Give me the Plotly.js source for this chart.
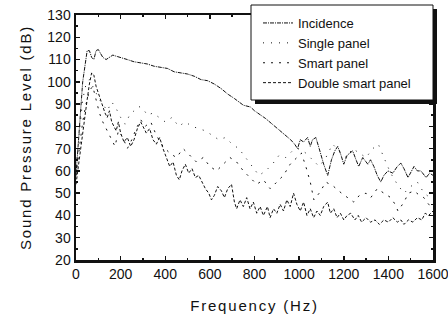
<!DOCTYPE html>
<html>
<head>
<meta charset="utf-8">
<script src="https://cdn.plot.ly/plotly-3.0.1.min.js"></script>
<style>
html,body{margin:0;padding:0;background:#fff;}
#chart{width:448px;height:316px;}
.xtitle,.ytitle{letter-spacing:1.8px;}
</style>
</head>
<body>
<div id="chart"></div>
<script>
// ---- data ----
const seriesNames = ["Incidence", "Single panel", "Smart panel", "Double smart panel"];

const freqIncidence = [0,10,20,30,40,50,60,70,80,90,100,110,120,135,150,165,180,200,230,260,290,320,350,380,410,440,470,500,530,560,590,620,650,680,710,750,782,800,850,880,917,940,962,980,993,1005,1020,1038,1050,1060,1075,1090,1110,1128,1145,1160,1173,1188,1200,1215,1240,1255,1267,1285,1308,1320,1335,1350,1366,1380,1398,1420,1440,1456,1470,1488,1500,1515,1530,1546,1569,1585,1600];
const dbIncidence = [58,70,86,100,108,114,114,111,110,114,114.5,113,111,110,111,112,111.5,111,110,109,108.5,108,107,106.5,106,104.5,104,103.5,102.5,101,100.5,99,97,94.5,92.5,89.5,88.7,87,83.5,81,78,76,74,72,70,74,73,75,71,74,75,70,63,58,65,69,71,67,63,67,69,65,62,66,63,65,62,58,55,58,60,59,62,63.5,61,57,59,62,60,60,57,59,58];

const freqSingle = [0,15,30,45,60,75,90,105,120,140,160,180,200,220,240,260,280,300,320,345,370,400,430,460,490,520,550,580,610,640,670,700,730,760,790,820,850,880,910,940,970,1000,1030,1060,1090,1120,1150,1180,1210,1240,1270,1300,1330,1355,1380,1410,1440,1470,1500,1530,1560,1600];
const dbSingle = [62,78,92,99,101,98,95,92,90,87,91,88,84,81,85,87,89,88,85,86,84,82,84,80,82,80,79,78,76,74,75,72,70,66,62,58,60,63,67,66,69,70,68,65,62,66,72,69,66,70,68,66,70,72,66,59,54,50,53,55,50,47];

const freqSmart = [0,15,30,45,60,75,90,105,120,140,160,175,190,210,230,250,270,290,310,335,360,390,420,450,480,510,540,570,600,630,660,690,720,750,780,810,840,870,900,930,960,990,1010,1030,1050,1066,1090,1120,1155,1190,1220,1245,1270,1300,1321,1350,1380,1411,1430,1443,1470,1490,1515,1540,1559,1580,1600];
const dbSmart = [58,70,82,90,96,98,92,86,82,78,74,71,78,75,70,74,79,83,80,82,76,71,68,66,70,67,64,66,62,60,63,66,64,60,57,54,56,52,55,58,63,66,68,62,55,47,50,55,53,50,48,46,49,50,48,52,50,48,45,42,46,50,51,49,48,45,44];

const freqDouble = [0,10,20,30,40,50,60,70,80,90,100,110,120,130,140,150,160,170,180,190,200,215,230,245,260,275,290,300,315,330,345,360,375,390,405,420,435,450,463,475,490,505,520,535,550,565,580,595,607,620,635,652,665,680,697,710,720,735,750,765,780,795,810,825,840,858,870,885,900,915,930,945,960,975,990,1005,1020,1035,1050,1065,1080,1095,1110,1128,1140,1155,1170,1185,1200,1215,1231,1250,1265,1280,1300,1320,1340,1360,1380,1400,1420,1440,1456,1470,1490,1510,1530,1550,1565,1580,1600];
const dbDouble = [54,62,70,76,84,92,99,104,103,98,95,92,88,86,84,87,82,80,78,82,77,73,75,71,74,79,82,80,77,79,74,72,75,70,66,62,64,58,56,60,63,59,61,57,58,55,52,50,47,49,53,51,48,52,54,46,43,47,44,48,43,46,41,44,40,44,39,43,41,45,42,47,44,50,45,42,46,40,43,39,42,40,44,46,41,43,39,41,38,40,41,38,40,37,39,37,38,36,38,37,39,37,38,36,38,37,39,38,41,40,42];

const xTickVals = [0,200,400,600,800,1000,1200,1400,1600];
const yTickVals = [20,30,40,50,60,70,80,90,100,110,120,130];

// ---- layout helpers (pixel -> paper) ----
const L = 76, R = 15, T = 15, B = 56, W = 448, H = 316;
const pw = W - L - R, ph = H - T - B;
const px = v => (v - L) / pw;
const py = v => (H - B - v) / ph;

const font = "Liberation Sans, Arial, Helvetica, sans-serif";

const traces = [
  {x: freqIncidence, y: dbIncidence, name: seriesNames[0], mode: "lines",
   line: {color: "#111", width: 1, dash: "4px,1px,1px,1px"}},
  {x: freqSingle, y: dbSingle, name: seriesNames[1], mode: "lines",
   line: {color: "#111", width: 1, dash: "1px,7px"}},
  {x: freqSmart, y: dbSmart, name: seriesNames[2], mode: "lines",
   line: {color: "#111", width: 1, dash: "2px,6px"}},
  {x: freqDouble, y: dbDouble, name: seriesNames[3], mode: "lines",
   line: {color: "#111", width: 1, dash: "3px,2px"}}
];

const layout = {
  width: W, height: H,
  margin: {l: L, r: R, t: T, b: B, autoexpand: false},
  paper_bgcolor: "#fff", plot_bgcolor: "#fff",
  font: {family: font, color: "#111"},
  showlegend: true,
  legend: {
    x: px(258), y: py(8), xanchor: "left", yanchor: "top",
    bgcolor: "rgba(0,0,0,0)", borderwidth: 0,
    font: {family: font, size: 13, color: "#111"},
    itemwidth: 30
  },
  xaxis: {
    range: [0, 1600], tickvals: xTickVals, ticktext: xTickVals.map(String),
    ticks: "inside", ticklen: 4, tickwidth: 1.5, tickcolor: "#111",
    minor: {dtick: 100, ticks: "inside", ticklen: 2, tickwidth: 1.5, tickcolor: "#111"},
    showline: true, linewidth: 2.5, linecolor: "#111", mirror: "ticks",
    showgrid: false, zeroline: false, ticklabeloverflow: "allow",
    tickfont: {family: font, size: 14, color: "#111"},
    title: {text: "Frequency (Hz)", font: {family: font, size: 15, color: "#111"}, standoff: 19}
  },
  yaxis: {
    range: [20, 130], tickvals: yTickVals, ticktext: yTickVals.map(String),
    ticks: "inside", ticklen: 4, tickwidth: 1.5, tickcolor: "#111",
    minor: {dtick: 5, ticks: "inside", ticklen: 2, tickwidth: 1.5, tickcolor: "#111"},
    showline: true, linewidth: 2.5, linecolor: "#111", mirror: "ticks",
    showgrid: false, zeroline: false, ticklabeloverflow: "allow",
    tickfont: {family: font, size: 14, color: "#111"},
    title: {text: "Sound Pressure Level (dB)", font: {family: font, size: 15, color: "#111"}, standoff: 12}
  },
  shapes: [
    {type: "rect", xref: "paper", yref: "paper", layer: "above",
     x0: px(255), x1: px(437), y0: py(104), y1: py(9),
     fillcolor: "#111", line: {width: 0}},
    {type: "rect", xref: "paper", yref: "paper", layer: "above",
     x0: px(251), x1: px(433), y0: py(100), y1: py(5),
     fillcolor: "#fff", line: {color: "#111", width: 1}}
  ]
};

Plotly.newPlot("chart", traces, layout, {staticPlot: true, displayModeBar: false});
</script>
</body>
</html>
